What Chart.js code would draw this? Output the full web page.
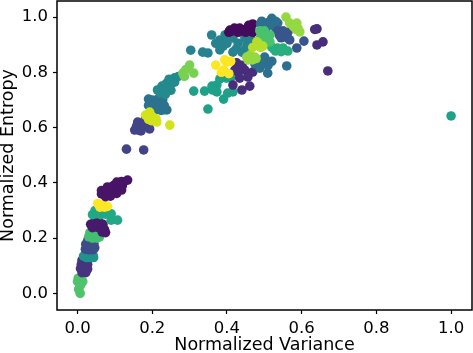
<!DOCTYPE html>
<html lang="en">
<head>
<meta charset="UTF-8">
<title>Normalized Entropy vs Variance</title>
<script src="https://cdn.jsdelivr.net/npm/chart.js@4"></script>
<style>
    html, body { margin: 0; padding: 0; background: #fff; }
    canvas { display: block; }
</style>
</head>
<body>
<canvas id="grafico" width="473" height="353"></canvas>
<script>
// Tick labels
const xTicks = [0, 0.2, 0.4, 0.6, 0.8, 1.0];
const yTicks = [0, 0.2, 0.4, 0.6, 0.8, 1.0];

// Clusters, [variance, entropy], painted in this order
const greenLow = [[0.007,0.0],[0.003,0.015],[0.0,0.043],[0.014,0.043],[0.005,0.05],[0.008,0.03],[0.002,0.055]];
const indigoLow = [[0.012,0.075],[0.022,0.075],[0.008,0.09],[0.018,0.09],[0.027,0.088],[0.01,0.105],[0.02,0.105],[0.027,0.105],[0.012,0.12],[0.024,0.12]];
const tealLow = [[0.016,0.135],[0.024,0.13],[0.033,0.13],[0.043,0.13],[0.022,0.145],[0.032,0.145],[0.041,0.142]];
const slateLow = [[0.021,0.16],[0.03,0.158],[0.04,0.158],[0.046,0.165],[0.022,0.178],[0.034,0.178],[0.044,0.18],[0.028,0.195],[0.04,0.195]];
const greenMid = [[0.03,0.205],[0.04,0.2],[0.052,0.2],[0.059,0.205],[0.033,0.22],[0.046,0.22]];
const purpleLow = [[0.035,0.25],[0.046,0.26],[0.058,0.258],[0.068,0.25],[0.04,0.238],[0.052,0.24],[0.062,0.235],[0.072,0.232],[0.075,0.22],[0.066,0.222]];
const tealGreenLow = [[0.04,0.285],[0.05,0.288],[0.062,0.285],[0.075,0.287],[0.09,0.288],[0.047,0.3],[0.06,0.3],[0.075,0.3],[0.09,0.265],[0.107,0.265]];
const yellowLow = [[0.054,0.325],[0.062,0.32],[0.07,0.322],[0.06,0.312],[0.072,0.312],[0.08,0.315]];
const darkPurpleMid = [[0.064,0.36],[0.075,0.35],[0.088,0.352],[0.064,0.372],[0.078,0.37],[0.092,0.368],[0.105,0.362],[0.118,0.374],[0.08,0.385],[0.096,0.39],[0.108,0.388],[0.12,0.39],[0.105,0.403],[0.118,0.405],[0.134,0.41]];
const indigoMid = [[0.131,0.522],[0.177,0.519],[0.153,0.591],[0.165,0.59],[0.193,0.595],[0.158,0.605],[0.161,0.62],[0.18,0.627],[0.178,0.605],[0.17,0.588]];
const blueTealMid = [[0.19,0.703],[0.2,0.7],[0.215,0.703],[0.228,0.7],[0.19,0.68],[0.205,0.685],[0.22,0.682],[0.232,0.68],[0.212,0.665],[0.224,0.662],[0.239,0.664],[0.232,0.665]];
const limeYellowMid = [[0.247,0.609],[0.193,0.656],[0.182,0.645],[0.212,0.62],[0.2,0.64],[0.21,0.632],[0.19,0.63],[0.198,0.625]];
const tealMid = [[0.214,0.736],[0.222,0.725],[0.235,0.72],[0.25,0.735],[0.226,0.75],[0.238,0.76],[0.245,0.775],[0.26,0.78],[0.26,0.765],[0.245,0.745],[0.232,0.735],[0.252,0.76],[0.27,0.785]];
const limeMid = [[0.282,0.797],[0.3,0.826],[0.311,0.797],[0.286,0.785],[0.29,0.81]];
const tealGreenMid = [[0.311,0.732],[0.349,0.667],[0.34,0.732],[0.362,0.736],[0.373,0.754],[0.373,0.729],[0.391,0.703],[0.402,0.725],[0.416,0.729],[0.381,0.776],[0.399,0.779],[0.36,0.75],[0.41,0.78],[1.0,0.642]];
const tealTop = [[0.303,0.88],[0.335,0.873],[0.349,0.87],[0.359,0.935],[0.381,0.917],[0.381,0.881],[0.37,0.905],[0.395,0.935],[0.4,0.905],[0.416,0.924],[0.416,0.873],[0.43,0.905],[0.448,0.924],[0.44,0.873],[0.455,0.9],[0.465,0.92],[0.425,0.885],[0.39,0.895],[0.45,0.885]];
const purpleTop = [[0.426,0.834],[0.421,0.808],[0.448,0.808],[0.469,0.801],[0.434,0.779],[0.416,0.754],[0.44,0.736],[0.461,0.75],[0.456,0.783],[0.43,0.8],[0.44,0.825],[0.641,0.957],[0.641,0.899],[0.657,0.91],[0.67,0.805],[0.635,0.955]];
const yellowTop = [[0.37,0.826],[0.391,0.808],[0.399,0.837],[0.394,0.845],[0.41,0.84],[0.385,0.8],[0.405,0.795]];
const darkPurpleTop = [[0.405,0.945],[0.408,0.953],[0.42,0.96],[0.434,0.96],[0.447,0.955],[0.461,0.96],[0.469,0.975],[0.469,0.945],[0.43,0.945],[0.45,0.945],[0.415,0.95],[0.458,0.97]];
const blueTealTop = [[0.49,0.975],[0.493,0.985],[0.51,0.98],[0.52,0.995],[0.536,0.978],[0.53,0.96],[0.505,0.96],[0.501,0.855],[0.509,0.797],[0.51,0.825],[0.488,0.815],[0.56,0.823],[0.52,0.84],[0.49,0.84],[0.475,0.83],[0.51,0.97],[0.53,0.985]];
const blueTop = [[0.536,0.95],[0.55,0.95],[0.563,0.945],[0.54,0.935],[0.556,0.93],[0.563,0.924],[0.545,0.925],[0.568,0.917],[0.587,0.888],[0.606,0.913]];
const limeTop = [[0.558,1.0],[0.568,0.978],[0.587,0.978],[0.595,0.946],[0.585,0.955],[0.578,0.965],[0.59,0.96],[0.453,0.855],[0.462,0.862],[0.475,0.855],[0.456,0.845],[0.468,0.845],[0.478,0.85]];
const greenTealTop = [[0.52,0.891],[0.535,0.888],[0.55,0.888],[0.563,0.877],[0.53,0.877],[0.545,0.875],[0.525,0.885]];
const greenTop = [[0.488,0.95],[0.5,0.95],[0.495,0.935],[0.509,0.924],[0.515,0.91],[0.5,0.91],[0.515,0.935],[0.49,0.925]];
const yellowGreenTop = [[0.483,0.906],[0.469,0.89],[0.49,0.89],[0.48,0.91],[0.496,0.895]];

const clusters = [greenLow, indigoLow, tealLow, slateLow, greenMid, purpleLow, tealGreenLow, yellowLow, darkPurpleMid,
    indigoMid, blueTealMid, limeYellowMid, tealMid, limeMid, tealGreenMid, tealTop, purpleTop, yellowTop,
    darkPurpleTop, blueTealTop, blueTop, limeTop, greenTealTop, greenTop, yellowGreenTop];
const colores = ['#4ec36b', '#47347f', '#1f948c', '#3e4c8a', '#44bf70', '#471a6c', '#22a884', '#fde725', '#481467',
    '#414487', '#2c728e', '#d2e21b', '#238a8d', '#7ad151', '#1fa088', '#26828e', '#472d7b', '#fde725',
    '#440a5c', '#2d6f8e', '#39568c', '#95d840', '#29af7f', '#4ac16d', '#b5de2b'];

// Marcos y ticks como en matplotlib
const marco = {
    id: 'marco',
    afterDraw(chart) {
        const { ctx, chartArea: a } = chart;
        ctx.save();
        ctx.strokeStyle = '#000';
        ctx.lineWidth = 1.5;
        ctx.strokeRect(a.left, a.top, a.right - a.left, a.bottom - a.top);
        ctx.restore();
    }
};

function ejeComun(titulo, ticks, min, max, relleno) {
    return {
        type: 'linear',
        min: min,
        max: max,
        afterBuildTicks: scale => { scale.ticks = ticks.map(v => ({ value: v })); },
        grid: { drawOnChartArea: false, color: '#000', tickColor: '#000', tickLength: 4, tickWidth: 1.2 },
        border: { display: false },
        ticks: {
            color: '#000',
            font: { family: 'DejaVu Sans', size: 16.5 },
            maxRotation: 0,
            padding: 5,
            callback: v => v.toFixed(1)
        },
        title: {
            display: true,
            text: titulo,
            color: '#000',
            font: { family: 'DejaVu Sans', size: 17.5 },
            padding: relleno
        }
    };
}

const ejeX = ejeComun('Normalized Variance', xTicks, -0.055, 1.056, { top: 0, bottom: -3 });
ejeX.afterFit = scale => { scale.height = 43; scale.paddingLeft = 0; scale.paddingRight = 0; };
const ejeY = ejeComun('Normalized Entropy', yTicks, -0.06, 1.058, { top: -2, bottom: 0 });
ejeY.afterFit = scale => { scale.width = 57; scale.paddingTop = 0; scale.paddingBottom = 0; };

new Chart(document.getElementById('grafico'), {
    type: 'scatter',
    data: {
        datasets: clusters.map((puntos, i) => ({
            data: puntos.map(p => ({ x: p[0], y: p[1] })),
            backgroundColor: colores[i],
            borderWidth: 0,
            pointRadius: 4.8,
            order: clusters.length - i
        }))
    },
    options: {
        responsive: false,
        animation: false,
        layout: { autoPadding: false, padding: { top: 1, right: 1, left: 0, bottom: 0 } },
        plugins: { legend: { display: false }, tooltip: { enabled: false } },
        scales: { x: ejeX, y: ejeY }
    },
    plugins: [marco]
});
</script>
</body>
</html>
